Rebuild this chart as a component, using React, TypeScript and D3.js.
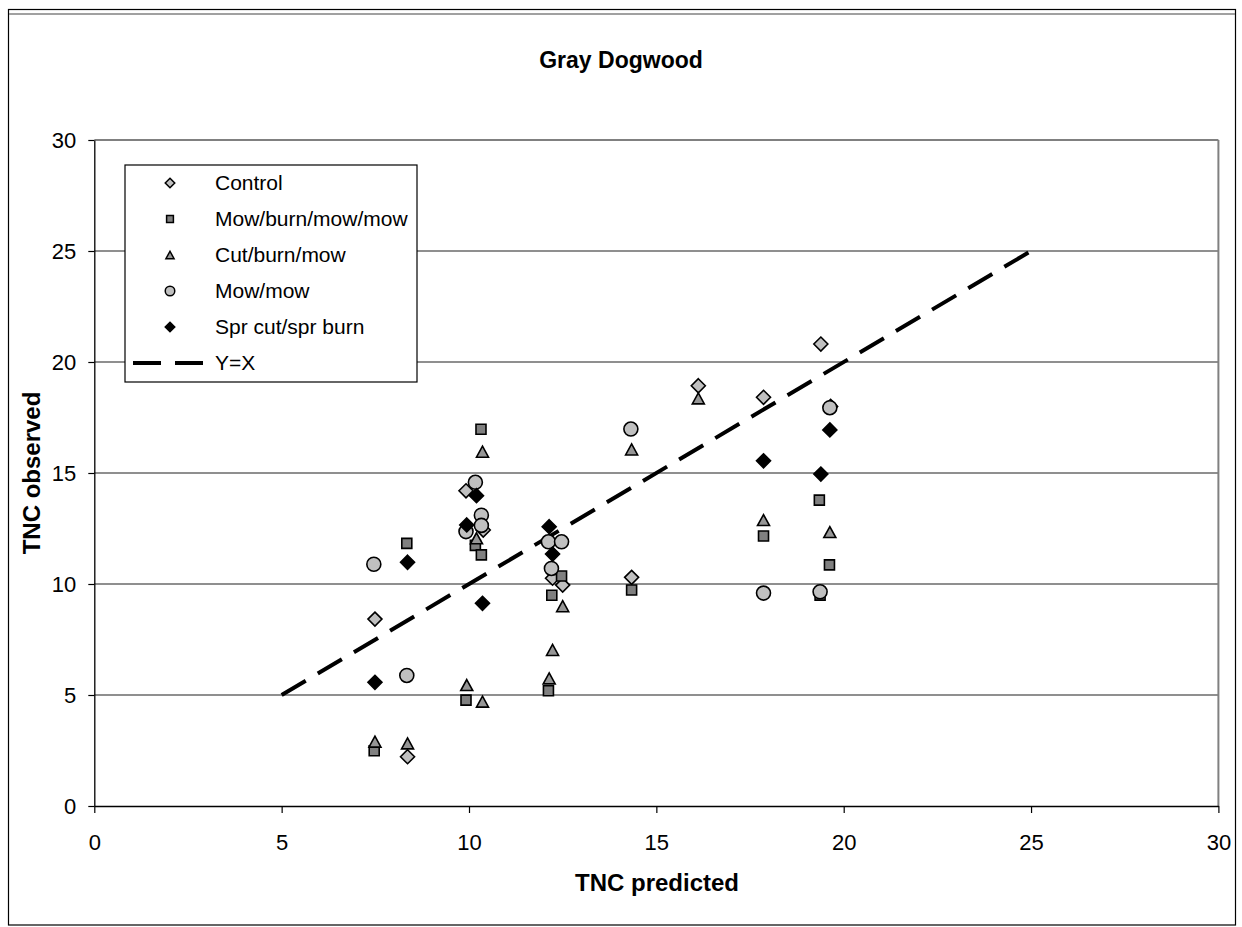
import React, { useEffect, useRef } from "react";
import * as d3 from "d3";

// Gray Dogwood: observed vs predicted TNC, by treatment, with a Y=X reference line.
const seriesNames = ["Control", "Mow/burn/mow/mow", "Cut/burn/mow", "Mow/mow", "Spr cut/spr burn"];

const controlX = [7.49, 8.36, 9.92, 10.38, 12.23, 12.5, 14.34, 16.12, 17.86, 19.39, 19.65];
const controlY = [8.42, 2.22, 14.2, 12.43, 10.26, 9.95, 10.3, 18.93, 18.41, 20.81, 18.0];

const mbmmX = [7.47, 8.34, 9.92, 10.17, 10.32, 10.33, 12.12, 12.21, 12.47, 14.34, 17.86, 19.35, 19.62, 19.37];
const mbmmY = [2.49, 11.83, 4.77, 11.74, 16.97, 11.31, 5.19, 9.49, 10.36, 9.73, 12.16, 13.78, 10.86, 9.5];

const cbmX = [7.49, 8.36, 9.94, 10.36, 10.36, 10.2, 12.14, 12.23, 12.5, 14.34, 16.12, 17.86, 19.63];
const cbmY = [2.9, 2.82, 5.45, 4.7, 15.96, 12.06, 5.75, 7.03, 9.0, 16.06, 18.36, 12.88, 12.34];

const mmX = [7.46, 8.34, 9.92, 10.17, 10.33, 10.33, 12.12, 12.47, 12.2, 14.32, 17.86, 19.37, 19.63];
const mmY = [10.89, 5.88, 12.36, 14.58, 13.1, 12.64, 11.9, 11.9, 10.7, 16.98, 9.59, 9.65, 17.94];

const sprX = [7.49, 8.36, 9.94, 10.2, 10.36, 12.14, 12.23, 17.86, 19.39, 19.63];
const sprY = [5.57, 10.98, 12.66, 13.98, 9.13, 12.58, 11.35, 15.55, 14.95, 16.94];

const refLine = [5, 25];
const ticks = [0, 5, 10, 15, 20, 25, 30];

const FONT = "'Liberation Sans', Arial, sans-serif";

function markerPath(kind: string, s: number) {
  // s = scale factor, 1 for plot markers
  if (kind === "diamond") {
    const r = 7 * s;
    return `M0,${-r}L${r},0L0,${r}L${-r},0Z`;
  }
  if (kind === "square") {
    const h = 5 * s;
    return `M${-h},${-h}H${h}V${h}H${-h}Z`;
  }
  if (kind === "triangle") {
    const w = 6 * s;
    const h = 5.5 * s;
    return `M0,${-h}L${w},${h}H${-w}Z`;
  }
  const r = 7 * s;
  return `M${r},0A${r},${r} 0 1,1 ${-r},0A${r},${r} 0 1,1 ${r},0Z`;
}

export default function App() {
  const ref = useRef<SVGSVGElement>(null);

  useEffect(() => {
    const svg = d3.select(ref.current);
    svg.selectAll("*").remove();

    const W = 1242;
    const H = 927;
    const left = 94.3;
    const right = 1218.4;
    const top = 140;
    const bottom = 806;

    const x = d3.scaleLinear().domain([0, 30]).range([left, right]);
    const y = d3.scaleLinear().domain([0, 30]).range([bottom, top]);

    svg.append("rect").attr("width", W).attr("height", H).attr("fill", "#fff");
    // chart frame
    svg
      .append("rect")
      .attr("x", 8.5)
      .attr("y", 9.5)
      .attr("width", 1227)
      .attr("height", 915.5)
      .attr("fill", "none")
      .attr("stroke", "#000")
      .attr("stroke-width", 1.2);
    svg
      .append("line")
      .attr("x1", 9)
      .attr("x2", 1235)
      .attr("y1", 14)
      .attr("y2", 14)
      .attr("stroke", "#808080")
      .attr("stroke-width", 1.5);

    // gridlines
    svg
      .append("g")
      .selectAll("line")
      .data(ticks.slice(1))
      .join("line")
      .attr("x1", left)
      .attr("x2", right)
      .attr("y1", (d) => y(d))
      .attr("y2", (d) => y(d))
      .attr("stroke", (d) => (d === 30 ? "#808080" : "#6a6a6a"))
      .attr("stroke-width", (d) => (d === 30 ? 2 : 1.4));

    // right plot border
    svg
      .append("line")
      .attr("x1", right)
      .attr("x2", right)
      .attr("y1", top)
      .attr("y2", bottom)
      .attr("stroke", "#808080")
      .attr("stroke-width", 2);

    // axes
    const xAxis = svg
      .append("g")
      .attr("transform", `translate(0,${bottom})`)
      .call(d3.axisBottom(x).tickValues(ticks).tickSize(7).tickSizeOuter(0).tickPadding(21));
    xAxis.select(".domain").attr("stroke", "#000").attr("stroke-width", 1.3);
    xAxis.selectAll(".tick line").attr("stroke", "#000").attr("stroke-width", 1.2);
    xAxis
      .selectAll("text")
      .attr("font-family", FONT)
      .attr("font-size", 22)
      .attr("fill", "#000");

    const yAxis = svg
      .append("g")
      .attr("transform", `translate(${left},0)`)
      .call(d3.axisLeft(y).tickValues(ticks).tickSize(6).tickSizeOuter(0).tickPadding(12));
    yAxis.select(".domain").attr("stroke", "#000").attr("stroke-width", 1.3);
    yAxis.selectAll(".tick line").attr("stroke", "#000").attr("stroke-width", 1.2);
    yAxis
      .selectAll("text")
      .attr("font-family", FONT)
      .attr("font-size", 22)
      .attr("fill", "#000");

    const series = [
      { name: seriesNames[0], xs: controlX, ys: controlY, kind: "diamond", fill: "#c0c0c0" },
      { name: seriesNames[1], xs: mbmmX, ys: mbmmY, kind: "square", fill: "#808080" },
      { name: seriesNames[2], xs: cbmX, ys: cbmY, kind: "triangle", fill: "#969696" },
      { name: seriesNames[3], xs: mmX, ys: mmY, kind: "circle", fill: "#c0c0c0" },
      { name: seriesNames[4], xs: sprX, ys: sprY, kind: "diamond", fill: "#000" },
    ];

    // Y=X line
    svg
      .append("line")
      .attr("x1", x(refLine[0]))
      .attr("y1", y(refLine[0]))
      .attr("x2", x(refLine[1]))
      .attr("y2", y(refLine[1]))
      .attr("stroke", "#000")
      .attr("stroke-width", 4)
      .attr("stroke-dasharray", "28 14");

    series.forEach((s) => {
      svg
        .append("g")
        .selectAll("path")
        .data(s.xs.map((v, i) => [v, s.ys[i]]))
        .join("path")
        .attr("transform", (d) => `translate(${x(d[0])},${y(d[1])})`)
        .attr("d", markerPath(s.kind, 1))
        .attr("fill", s.fill)
        .attr("stroke", "#000")
        .attr("stroke-width", 1.6);
    });

    // legend
    const lg = svg.append("g");
    lg.append("rect")
      .attr("x", 125)
      .attr("y", 165)
      .attr("width", 292)
      .attr("height", 217)
      .attr("fill", "#fff")
      .attr("stroke", "#000")
      .attr("stroke-width", 1.2);
    series.forEach((s, i) => {
      const cy = 183 + i * 36;
      lg.append("path")
        .attr("transform", `translate(170,${cy})`)
        .attr("d", markerPath(s.kind, 0.68))
        .attr("fill", s.fill)
        .attr("stroke", "#000")
        .attr("stroke-width", 1.5);
      lg.append("text")
        .attr("x", 215)
        .attr("y", cy)
        .attr("dy", "0.35em")
        .attr("font-family", FONT)
        .attr("font-size", 21)
        .text(s.name);
    });
    lg.append("line")
      .attr("x1", 133)
      .attr("x2", 203)
      .attr("y1", 363)
      .attr("y2", 363)
      .attr("stroke", "#000")
      .attr("stroke-width", 4)
      .attr("stroke-dasharray", "28 14");
    lg.append("text")
      .attr("x", 215)
      .attr("y", 363)
      .attr("dy", "0.35em")
      .attr("font-family", FONT)
      .attr("font-size", 21)
      .text("Y=X");

    // titles
    svg
      .append("text")
      .attr("x", 621)
      .attr("y", 68)
      .attr("text-anchor", "middle")
      .attr("font-family", FONT)
      .attr("font-weight", "bold")
      .attr("font-size", 23)
      .text("Gray Dogwood");
    svg
      .append("text")
      .attr("x", 657)
      .attr("y", 883)
      .attr("dy", "0.35em")
      .attr("text-anchor", "middle")
      .attr("font-family", FONT)
      .attr("font-weight", "bold")
      .attr("font-size", 24)
      .text("TNC predicted");
    svg
      .append("text")
      .attr("transform", `translate(32,473) rotate(-90)`)
      .attr("dy", "0.35em")
      .attr("text-anchor", "middle")
      .attr("font-family", FONT)
      .attr("font-weight", "bold")
      .attr("font-size", 24)
      .text("TNC observed");
  }, []);

  return (
    <svg
      ref={ref}
      width={1242}
      height={927}
      style={{ position: "absolute", left: 0, top: 0 }}
    />
  );
}
